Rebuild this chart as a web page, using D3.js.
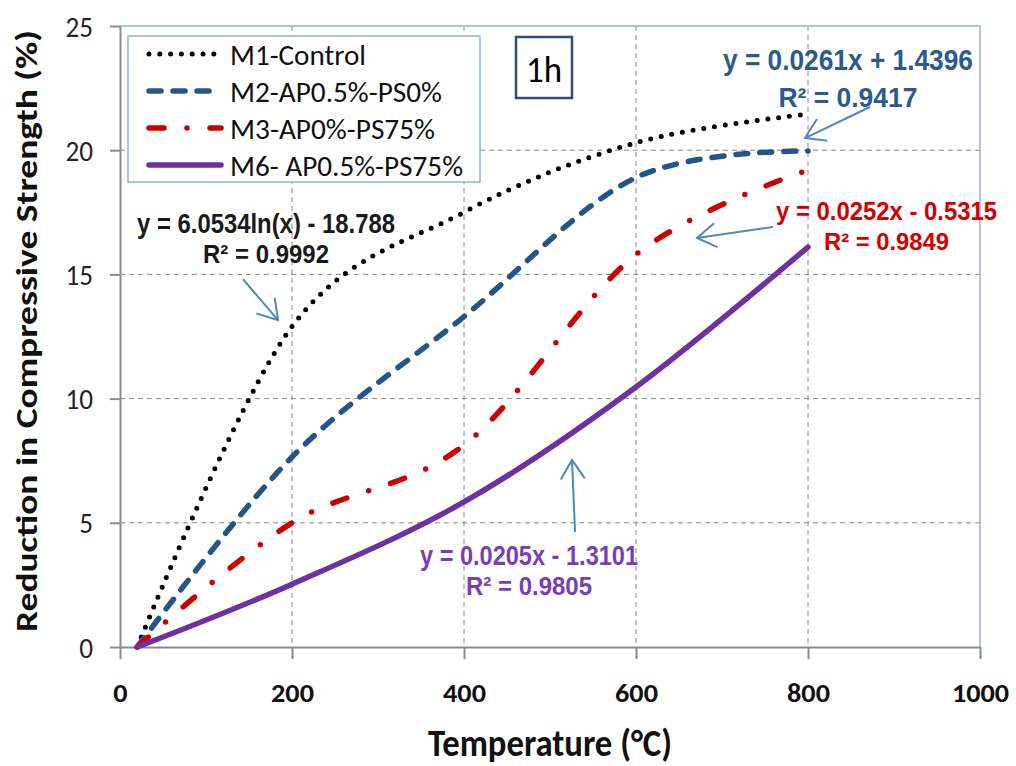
<!DOCTYPE html>
<html><head><meta charset="utf-8">
<script src="https://cdn.jsdelivr.net/npm/d3@7"></script>
<style>body{margin:0;background:#fff}svg{display:block}</style>
</head><body>
<svg id="c" width="1016" height="766"></svg>
<script>
// ---------- data ----------
const temperatures = [20, 200, 400, 600, 800];
const seriesNames = ["M1-Control", "M2-AP0.5%-PS0%", "M3-AP0%-PS75%", "M6- AP0.5%-PS75%"];
const m1Control   = [0, 12.9, 17.5, 20.3, 21.45];
const m2AP05PS0   = [0, 7.65, 13.3, 18.9, 19.97];
const m3AP0PS75   = [0, 5.0, 8.13, 15.8, 19.2];
const m6AP05PS75  = [0, 2.53, 5.84, 10.47, 16.1];
const xTicks = [0, 200, 400, 600, 800, 1000];
const yTicks = [0, 5, 10, 15, 20, 25];
const fitEquations = ["y = 6.0534ln(x) - 18.788", "y = 0.0261x + 1.4396", "y = 0.0252x - 0.5315", "y = 0.0205x - 1.3101"];
const fitR2 = ["R² = 0.9992", "R² = 0.9417", "R² = 0.9849", "R² = 0.9805"];
const seriesValues = [m1Control, m2AP05PS0, m3AP0PS75, m6AP05PS75];

// ---------- styles / layout ----------
const styles = [
  {color: "#000000", width: 5, dash: "0 10.8"},
  {color: "#23558b", width: 5.5, dash: "12 12"},
  {color: "#cc0000", width: 5.5, dash: "15 23 0 23"},
  {color: "#7030a0", width: 5.5, dash: null}
];
// annotation layout (in data units: temperature, %)
const annLayout = [
  {cx: 169.8, b1: 16.67, b2: 15.46, f1: 27, f2: 25, w1: 258, w2: 126, col: "#1a1a1a",
   a: [143.0, 14.81, 183.7, 13.16]},
  {cx: 846.5, b1: 23.23, b2: 21.74, f1: 30, f2: 28, w1: 250, w2: 139, col: "#2a5b8f",
   a: [872.1, 21.74, 796.5, 20.49]},
  {cx: 891.3, b1: 17.19, b2: 15.98, f1: 25, f2: 24, w1: 221, w2: 125, col: "#d40000",
   a: [759.3, 16.91, 670.9, 16.47]},
  {cx: 475.6, b1: 3.30, b2: 2.09, f1: 27, f2: 25, w1: 218, w2: 126, col: "#7b3db5",
   a: [529.1, 4.63, 525.6, 7.53]}
];
const legendWidths = [136, 212, 205, 233];

const calibri = "Carlito, Calibri, Lato, 'Liberation Sans', sans-serif";
const arial = "'Liberation Sans', Arial, sans-serif";

const svg = d3.select("#c");
const x = d3.scaleLinear().domain([0, 1000]).range([120, 980]);
const y = d3.scaleLinear().domain([0, 25]).range([647, 26]);

function fit(sel, w) { return sel.attr("textLength", w).attr("lengthAdjust", "spacingAndGlyphs"); }

// arrow marker
svg.append("defs").append("marker")
  .attr("id", "arr").attr("markerUnits", "userSpaceOnUse")
  .attr("viewBox", "-22 -14 24 28").attr("refX", 0).attr("refY", 0)
  .attr("markerWidth", 24).attr("markerHeight", 28).attr("orient", "auto")
  .append("path").attr("d", "M-19,-12 L0,0 L-19,12")
  .attr("fill", "none").attr("stroke", "#4f86c6").attr("stroke-width", 2);

// grid
const grid = svg.append("g").attr("stroke", "#8a8a8a").attr("stroke-width", 1).attr("stroke-dasharray", "5 4");
grid.selectAll(".gx").data(xTicks.filter(t => t > 0 && t < 1000)).join("line")
  .attr("x1", d => x(d)).attr("x2", d => x(d)).attr("y1", y(25)).attr("y2", y(0));
grid.selectAll(".gy").data(yTicks.filter(t => t > 0 && t < 25)).join("line")
  .attr("y1", d => y(d)).attr("y2", d => y(d)).attr("x1", x(0)).attr("x2", x(1000));

// plot area border top/right
svg.append("path").attr("d", `M${x(0)},${y(25)}H${x(1000)}V${y(0)}`)
  .attr("fill", "none").attr("stroke", "#8db3e2").attr("stroke-width", 1.5);

// axes
const yAxis = svg.append("g").attr("transform", `translate(${x(0)},0)`)
  .call(d3.axisLeft(y).tickValues(yTicks).tickFormat(d3.format("d")).tickSize(10).tickSizeOuter(0).tickPadding(17));
const xAxis = svg.append("g").attr("transform", `translate(0,${y(0)})`)
  .call(d3.axisBottom(x).tickValues(xTicks).tickFormat(d3.format("d")).tickSize(12).tickSizeOuter(0));
[yAxis, xAxis].forEach(g => {
  g.select(".domain").attr("stroke", "#8c8c8c").attr("stroke-width", 2);
  g.selectAll(".tick line").attr("stroke", "#8c8c8c").attr("stroke-width", 2);
});
yAxis.selectAll("text").attr("font-family", calibri).attr("font-size", 28).attr("fill", "#262626")
  .attr("dy", "0.36em").each(function(d){ fit(d3.select(this), String(d).length * 13.8); });
xAxis.selectAll("text").attr("font-family", calibri).attr("font-size", 27).attr("font-weight", "bold")
  .attr("fill", "#111").attr("dy", null).attr("y", 55)
  .each(function(d){ fit(d3.select(this), String(d).length * 14.3); });

// axis titles
fit(svg.append("text").attr("x", 550).attr("y", 756).attr("text-anchor", "middle")
  .attr("font-family", calibri).attr("font-weight", "bold").attr("font-size", 38).attr("fill", "#111")
  .text("Temperature (°C)"), 244);
fit(svg.append("text").attr("transform", "translate(37,331) rotate(-90)").attr("text-anchor", "middle")
  .attr("font-family", calibri).attr("font-weight", "bold").attr("font-size", 30).attr("fill", "#111")
  .text("Reduction in Compressive Strength (%)"), 602);

// series
const line = d3.line().x(d => x(d[0])).y(d => y(d[1])).curve(d3.curveCatmullRom.alpha(0));
seriesValues.forEach((vals, i) => {
  const st = styles[i];
  svg.append("path").datum(temperatures.map((t, j) => [t, vals[j]]))
    .attr("d", line).attr("fill", "none").attr("stroke", st.color).attr("stroke-width", st.width)
    .attr("stroke-linecap", "round").attr("stroke-linejoin", "round")
    .attr("stroke-dasharray", st.dash);
});

// annotations
annLayout.forEach((a, i) => {
  fit(svg.append("text").attr("x", x(a.cx)).attr("y", y(a.b1)).attr("text-anchor", "middle")
    .attr("font-family", arial).attr("font-weight", "bold").attr("font-size", a.f1).attr("fill", a.col)
    .text(fitEquations[i]), a.w1);
  fit(svg.append("text").attr("x", x(a.cx)).attr("y", y(a.b2)).attr("text-anchor", "middle")
    .attr("font-family", arial).attr("font-weight", "bold").attr("font-size", a.f2).attr("fill", a.col)
    .text(fitR2[i]), a.w2);
  svg.append("line").attr("x1", x(a.a[0])).attr("y1", y(a.a[1])).attr("x2", x(a.a[2])).attr("y2", y(a.a[3]))
    .attr("stroke", "#4f86c6").attr("stroke-width", 2).attr("marker-end", "url(#arr)");
});

// legend
const lg = svg.append("g");
lg.append("rect").attr("x", 128).attr("y", 36).attr("width", 352).attr("height", 146)
  .attr("fill", "#fff").attr("stroke", "#8db3e2").attr("stroke-width", 1.5);
seriesNames.forEach((name, i) => {
  const cy = 54 + i * 37;
  const st = styles[i];
  lg.append("line").attr("x1", 149).attr("x2", 221).attr("y1", cy).attr("y2", cy)
    .attr("stroke", st.color).attr("stroke-width", st.width).attr("stroke-linecap", "round")
    .attr("stroke-dasharray", st.dash);
  fit(lg.append("text").attr("x", 230).attr("y", cy + 10.5).attr("font-family", calibri)
    .attr("font-size", 29).attr("fill", "#111").text(name), legendWidths[i]);
});

// 1h box
svg.append("rect").attr("x", 516).attr("y", 37).attr("width", 56).attr("height", 61)
  .attr("fill", "#fff").attr("stroke", "#2d4d7c").attr("stroke-width", 2.5);
fit(svg.append("text").attr("x", 544).attr("y", 82).attr("text-anchor", "middle")
  .attr("font-family", calibri).attr("font-size", 37).attr("fill", "#000").text("1h"), 36);
</script>
</body></html>
